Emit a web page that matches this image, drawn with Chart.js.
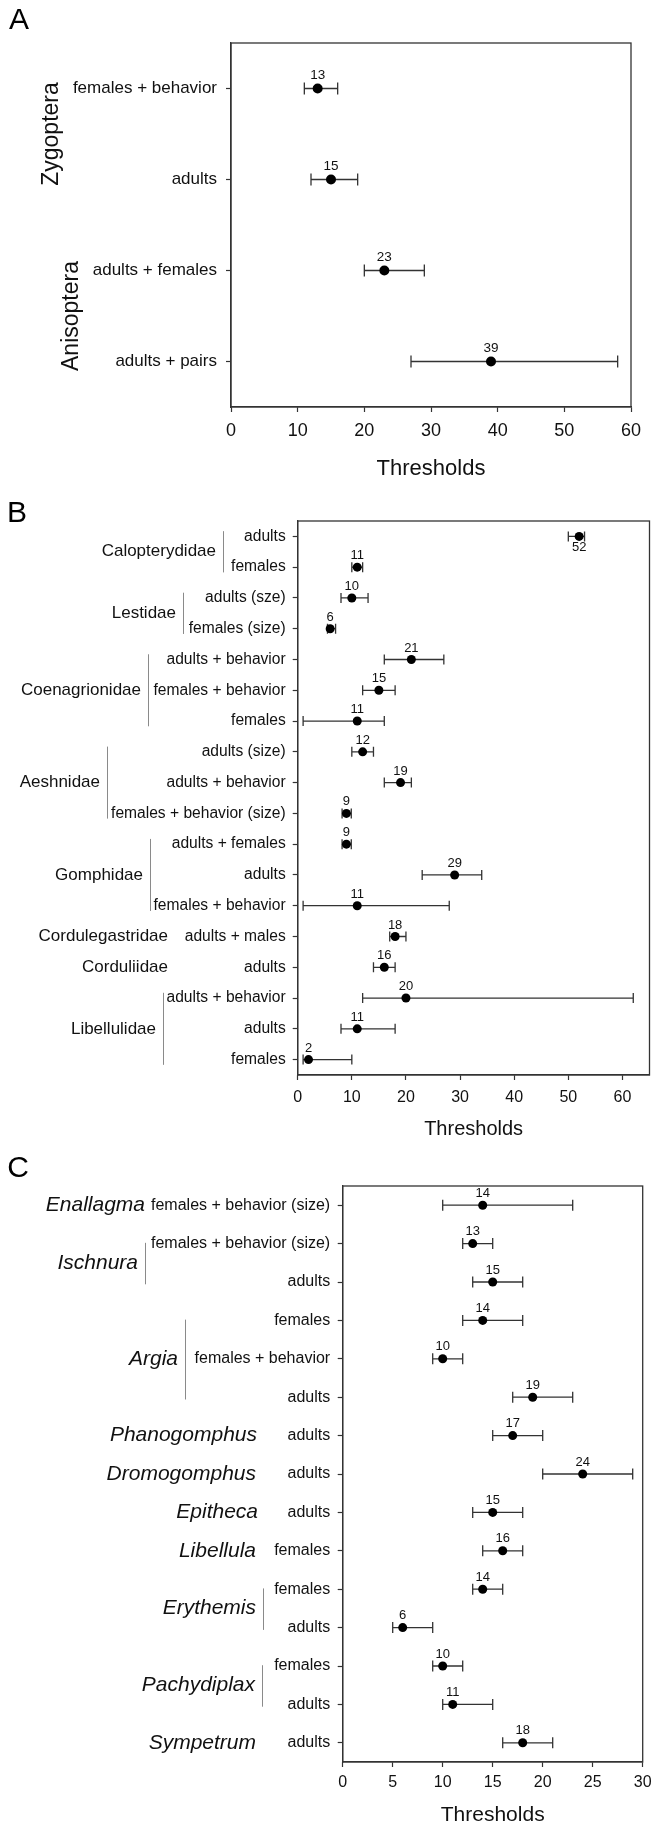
<!DOCTYPE html>
<html>
<head>
<meta charset="utf-8">
<script src="https://cdn.jsdelivr.net/npm/chart.js@4.4.1/dist/chart.umd.min.js"></script>
<style>
  body { margin: 0; background: #fff; width: 654px; height: 1826px; position: relative; overflow: hidden; }
  canvas { position: absolute; left: 0; }
</style>
</head>
<body>
<canvas id="chartA" width="654" height="490" style="top:0px"></canvas>
<canvas id="chartB" width="654" height="660" style="top:490px"></canvas>
<canvas id="chartC" width="654" height="676" style="top:1150px"></canvas>
<script>
const FONT = "'Liberation Sans', Arial, Helvetica, sans-serif";
const INK = '#111';
const LINE = '#333';

// --- panel A: suborders ---
const aLabels = ['females + behavior', 'adults', 'adults + females', 'adults + pairs'];
const aValues = [13, 15, 23, 39];
const aLow = [11, 12, 20, 27];
const aHigh = [16, 19, 29, 58];
const aTicks = [0, 10, 20, 30, 40, 50, 60];
const aGroups = ['Zygoptera', 'Anisoptera'];
const aGroupFirst = [0, 2];
const aGroupLast = [1, 3];

// --- panel B: families ---
const bLabels = ['adults', 'females', 'adults (sze)', 'females (size)', 'adults + behavior',
  'females + behavior', 'females', 'adults (size)', 'adults + behavior', 'females + behavior (size)',
  'adults + females', 'adults', 'females + behavior', 'adults + males', 'adults',
  'adults + behavior', 'adults', 'females'];
const bValues = [52, 11, 10, 6, 21, 15, 11, 12, 19, 9, 9, 29, 11, 18, 16, 20, 11, 2];
const bLow = [50, 10, 8, 5.5, 16, 12, 1, 10, 16, 8.2, 8.2, 23, 1, 17, 14, 12, 8, 1];
const bHigh = [53, 12, 13, 7, 27, 18, 16, 14, 21, 9.9, 9.9, 34, 28, 20, 18, 62, 18, 10];
const bTicks = [0, 10, 20, 30, 40, 50, 60];
const bGroups = ['Calopterydidae', 'Lestidae', 'Coenagrionidae', 'Aeshnidae', 'Gomphidae',
  'Cordulegastridae', 'Corduliidae', 'Libellulidae'];
const bGroupFirst = [0, 2, 4, 7, 10, 13, 14, 15];
const bGroupLast = [1, 3, 6, 9, 12, 13, 14, 17];

// --- panel C: genera ---
const cLabels = ['females + behavior (size)', 'females + behavior (size)', 'adults', 'females',
  'females + behavior', 'adults', 'adults', 'adults', 'adults', 'females', 'females', 'adults',
  'females', 'adults', 'adults'];
const cValues = [14, 13, 15, 14, 10, 19, 17, 24, 15, 16, 14, 6, 10, 11, 18];
const cLow = [10, 12, 13, 12, 9, 17, 15, 20, 13, 14, 13, 5, 9, 10, 16];
const cHigh = [23, 15, 18, 18, 12, 23, 20, 29, 18, 18, 16, 9, 12, 15, 21];
const cTicks = [0, 5, 10, 15, 20, 25, 30];
const cGroups = ['Enallagma', 'Ischnura', 'Argia', 'Phanogomphus', 'Dromogomphus', 'Epitheca',
  'Libellula', 'Erythemis', 'Pachydiplax', 'Sympetrum'];
const cGroupFirst = [0, 1, 3, 6, 7, 8, 9, 10, 12, 14];
const cGroupLast = [0, 2, 5, 6, 7, 8, 9, 11, 13, 14];

function makePanel(id, d, s) {
  const canvas = document.getElementById(id);
  const W = canvas.width, H = canvas.height;

  const panelPlugin = {
    id: 'panel_' + id,
    beforeDatasetsDraw(chart) {
      const { ctx, scales: { x, y } } = chart;
      ctx.save();
      ctx.strokeStyle = LINE;
      ctx.lineWidth = 1.3;
      d.low.forEach((lo, i) => {
        const py = y.getPixelForValue(i);
        const x1 = x.getPixelForValue(lo);
        const x2 = x.getPixelForValue(d.high[i]);
        ctx.beginPath();
        ctx.moveTo(x1, py); ctx.lineTo(x2, py);
        ctx.moveTo(x1, py - s.cap); ctx.lineTo(x1, py + s.cap);
        ctx.moveTo(x2, py - s.cap); ctx.lineTo(x2, py + s.cap);
        ctx.stroke();
      });
      ctx.restore();
    },
    afterDatasetsDraw(chart) {
      const { ctx } = chart;
      const meta = chart.getDatasetMeta(0);
      ctx.save();
      ctx.fillStyle = INK;
      ctx.font = `${s.valueSize}px ${FONT}`;
      ctx.textAlign = 'center';
      ctx.textBaseline = 'middle';
      meta.data.forEach((pt, i) => {
        const below = s.below.includes(i);
        ctx.fillText(String(d.values[i]), pt.x, below ? pt.y + s.valueOff : pt.y - s.valueOff);
      });
      ctx.restore();
    },
    afterDraw(chart) {
      const { ctx, chartArea: a, scales: { y } } = chart;
      ctx.save();
      // closed frame
      ctx.strokeStyle = LINE;
      ctx.lineWidth = 1.3;
      ctx.strokeRect(a.left, a.top, a.right - a.left, a.bottom - a.top);

      // group labels
      ctx.fillStyle = INK;
      ctx.font = `${s.groupStyle} ${s.groupSize}px ${FONT}`;
      d.groups.forEach((g, i) => {
        const first = d.groupFirst[i], last = d.groupLast[i];
        const cy = (y.getPixelForValue(first) + y.getPixelForValue(last)) / 2;
        if (s.rotated) {
          ctx.save();
          ctx.translate(s.groupX[i], cy);
          ctx.rotate(-Math.PI / 2);
          ctx.textAlign = 'center';
          ctx.textBaseline = 'alphabetic';
          ctx.fillText(g, 0, 0);
          ctx.restore();
          return;
        }
        ctx.textAlign = 'right';
        ctx.textBaseline = 'middle';
        ctx.fillText(g, s.groupX[i], cy);
        if (last > first) {
          const bx = s.groupX[i] + 7.5;
          ctx.strokeStyle = '#8a8a8a';
          ctx.lineWidth = 1;
          ctx.beginPath();
          ctx.moveTo(bx, y.getPixelForValue(first + s.bracket[0]));
          ctx.lineTo(bx, y.getPixelForValue(last + s.bracket[1]));
          ctx.stroke();
        }
      });

      // panel letter
      ctx.font = `30px ${FONT}`;
      ctx.textAlign = 'center';
      ctx.textBaseline = 'middle';
      ctx.fillStyle = '#000';
      ctx.fillText(s.letter, s.letterX, s.letterY);
      ctx.restore();
    }
  };

  return new Chart(canvas, {
    type: 'line',
    data: {
      labels: d.labels,
      datasets: [{
        data: d.values,
        showLine: false,
        pointRadius: s.dot,
        pointHoverRadius: s.dot,
        pointBackgroundColor: '#000',
        pointBorderWidth: 0,
        borderColor: '#000'
      }]
    },
    options: {
      responsive: false,
      animation: false,
      events: [],
      indexAxis: 'y',
      layout: { padding: { top: s.area.top, right: W - s.area.right, left: 0, bottom: 0 } },
      plugins: { legend: { display: false }, tooltip: { enabled: false } },
      scales: {
        x: {
          type: 'linear',
          min: 0,
          max: d.xMax,
          afterBuildTicks: sc => { sc.ticks = d.ticks.map(v => ({ value: v })); },
          afterFit: sc => { sc.height = H - s.area.bottom; },
          grid: { drawOnChartArea: false, drawTicks: true, tickLength: 5, tickColor: LINE, tickWidth: 1.2 },
          border: { color: LINE, width: 1.3 },
          ticks: {
            padding: 0,
            color: INK,
            maxRotation: 0,
            font: { family: FONT, size: s.xTickSize, lineHeight: s.xTickLine }
          },
          title: {
            display: true,
            text: 'Thresholds',
            color: INK,
            font: { family: FONT, size: s.titleSize, lineHeight: 1 },
            padding: { top: 0, bottom: s.titlePad }
          }
        },
        y: {
          type: 'category',
          offset: true,
          afterFit: sc => { sc.width = s.area.left; },
          grid: { offset: false, drawOnChartArea: false, drawTicks: true, tickLength: 5, tickColor: LINE, tickWidth: 1.2 },
          border: { color: LINE, width: 1.3 },
          ticks: {
            autoSkip: false,
            padding: s.yPad,
            color: INK,
            font: { family: FONT, size: s.yTickSize }
          }
        }
      }
    },
    plugins: [panelPlugin]
  });
}

makePanel('chartA',
  { labels: aLabels, values: aValues, low: aLow, high: aHigh, ticks: aTicks, xMax: 60,
    groups: aGroups, groupFirst: aGroupFirst, groupLast: aGroupLast },
  { area: { left: 231, right: 631, top: 43, bottom: 407 },
    xTickSize: 18, xTickLine: 38 / 18, titleSize: 22, titlePad: 10,
    yTickSize: 17, yPad: 9, dot: 5, cap: 6, valueSize: 13.5, valueOff: 13, below: [],
    rotated: true, groupStyle: 'normal', groupSize: 23, groupX: [58, 78],
    letter: 'A', letterX: 19, letterY: 21 });

makePanel('chartB',
  { labels: bLabels, values: bValues, low: bLow, high: bHigh, ticks: bTicks, xMax: 65,
    groups: bGroups, groupFirst: bGroupFirst, groupLast: bGroupLast },
  { area: { left: 297.7, right: 651.7, top: 31, bottom: 585 },
    xTickSize: 16, xTickLine: 36 / 16, titleSize: 20, titlePad: 11,
    yTickSize: 15.6, yPad: 7, dot: 4.5, cap: 5, valueSize: 13, valueOff: 11.5, below: [0],
    rotated: false, groupStyle: 'normal', groupSize: 17,
    groupX: [216, 176, 141, 100, 143, 168, 168, 156], bracket: [-0.17, 0.17],
    letter: 'B', letterX: 17, letterY: 24 });

makePanel('chartC',
  { labels: cLabels, values: cValues, low: cLow, high: cHigh, ticks: cTicks, xMax: 30,
    groups: cGroups, groupFirst: cGroupFirst, groupLast: cGroupLast },
  { area: { left: 342.7, right: 642.7, top: 36, bottom: 612 },
    xTickSize: 16, xTickLine: 2, titleSize: 21, titlePad: 0.5,
    yTickSize: 16, yPad: 7.5, dot: 4.5, cap: 5.5, valueSize: 13, valueOff: 12, below: [],
    rotated: false, groupStyle: 'italic', groupSize: 21,
    groupX: [145, 138, 178, 257, 256, 258, 256, 256, 255, 256], bracket: [-0.02, 0.06],
    letter: 'C', letterX: 18, letterY: 19 });
</script>
</body>
</html>
